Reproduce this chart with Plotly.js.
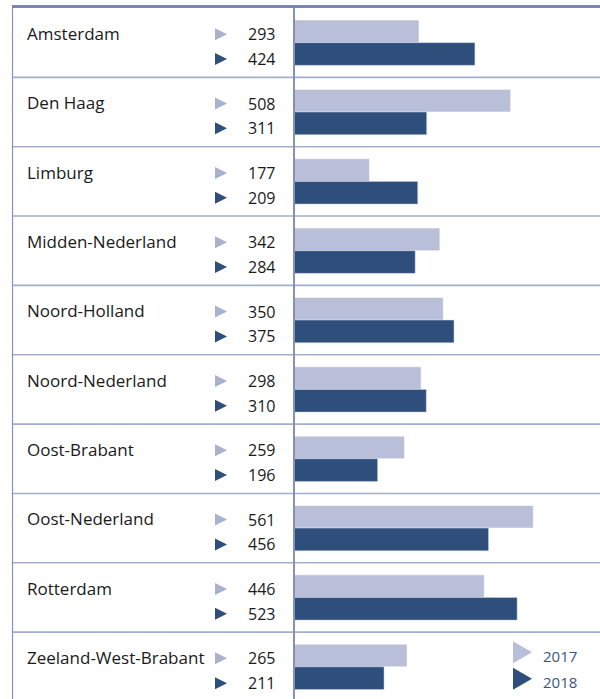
<!DOCTYPE html>
<html>
<head>
<meta charset="utf-8">
<script src="https://cdn.plot.ly/plotly-3.0.1.min.js"></script>
<style>
  html, body { margin: 0; padding: 0; background: #ffffff; }
  #chart { width: 600px; height: 699px; }
</style>
</head>
<body>
<div id="chart"></div>
<script>
// ---- data ----
const regions = ["Amsterdam", "Den Haag", "Limburg", "Midden-Nederland", "Noord-Holland",
                 "Noord-Nederland", "Oost-Brabant", "Oost-Nederland", "Rotterdam", "Zeeland-West-Brabant"];
// bar lengths as drawn in the picture
const values2017 = [293, 508, 177, 342, 350, 298, 259, 561, 446, 265];
const values2018 = [424, 311, 290, 284, 375, 310, 196, 456, 523, 211];
// numbers printed in the table (the picture prints 209 for Limburg 2018, bar is drawn at ~290)
const labels2017 = ["293", "508", "177", "342", "350", "298", "259", "561", "446", "265"];
const labels2018 = ["424", "311", "209", "284", "375", "310", "196", "456", "523", "211"];
const seriesNames = ["2017", "2018"];

// ---- styling ----
const LIGHT = "#b9bfd9";
const DARK = "#2e4e7c";
const LIGHT_TRI = "#a9b1d1";
const FONT = "Open Sans, Noto Sans, sans-serif";
const W = 600, H = 699;
const px = v => v / W;

const idx = regions.map((_, i) => i);

const traces = [
  {
    type: "bar", orientation: "h", name: seriesNames[0],
    y: idx, x: values2017,
    marker: { color: LIGHT, line: { color: "rgba(255,255,255,0.55)", width: 1 } },
    hoverinfo: "x", showlegend: false
  },
  {
    type: "bar", orientation: "h", name: seriesNames[1],
    y: idx, x: values2018,
    marker: { color: DARK, line: { color: "rgba(200,210,230,0.5)", width: 1 } },
    hoverinfo: "x", showlegend: false
  }
];

const annotations = [];
const shapes = [];

function tri(xc, yAnchor, yref, dy, color, w, h) {
  // right-pointing triangle in pixel units around an anchor; dy positive = up
  const hw = w / 2, hh = h / 2;
  shapes.push({
    type: "path", xref: "paper", yref: yref,
    xsizemode: "pixel", ysizemode: "pixel",
    xanchor: px(xc), yanchor: yAnchor,
    path: `M${-hw},${dy + hh} L${hw},${dy} L${-hw},${dy - hh} Z`,
    fillcolor: color, line: { width: 0 }, layer: "above"
  });
}

regions.forEach((name, i) => {
  annotations.push({
    xref: "paper", yref: "y", x: px(24.5), y: i, yshift: 9.3,
    xanchor: "left", yanchor: "middle", showarrow: false,
    text: name, font: { family: FONT, size: 17, color: "#1a1a1a" }
  });
  annotations.push({
    xref: "paper", yref: "y", x: px(276.5), y: i, yshift: 8.5,
    xanchor: "right", yanchor: "middle", showarrow: false,
    text: labels2017[i], font: { family: FONT, size: 16, color: "#1a1a1a" }
  });
  annotations.push({
    xref: "paper", yref: "y", x: px(276.5), y: i, yshift: -16.3,
    xanchor: "right", yanchor: "middle", showarrow: false,
    text: labels2018[i], font: { family: FONT, size: 16, color: "#1a1a1a" }
  });
  tri(221, i, "y", 8.5, LIGHT_TRI, 12, 12);
  tri(221, i, "y", -16.3, DARK, 12, 12);
  if (i < regions.length - 1) {
    shapes.push({
      type: "line", xref: "paper", yref: "y",
      x0: px(12), x1: 1, y0: i + 0.5, y1: i + 0.5,
      line: { color: "#a4afcc", width: 1.6 }, layer: "above"
    });
  }
});

// legend (bottom right)
const lastRow = regions.length - 1;
tri(522.5, lastRow, "y", 14.5, LIGHT, 19, 22);
tri(522.5, lastRow, "y", -11.8, DARK, 19, 22);
annotations.push({
  xref: "paper", yref: "y", x: px(540.5), y: lastRow, yshift: 10.8,
  xanchor: "left", yanchor: "middle", showarrow: false,
  text: seriesNames[0], font: { family: FONT, size: 15, color: "#3b5586" }
});
annotations.push({
  xref: "paper", yref: "y", x: px(540.5), y: lastRow, yshift: -15.5,
  xanchor: "left", yanchor: "middle", showarrow: false,
  text: seriesNames[1], font: { family: FONT, size: 15, color: "#3b5586" }
});

// frame lines
shapes.push({
  type: "line", xref: "paper", yref: "paper",
  x0: px(12.5), x1: px(12.5), y0: -0.01, y1: 1.0,
  line: { color: "#8493c2", width: 1.2 }, layer: "above"
});
shapes.push({
  type: "line", xref: "paper", yref: "paper",
  x0: px(294), x1: px(294), y0: -0.01, y1: 1.0,
  line: { color: "#8592b3", width: 2 }, layer: "above"
});
shapes.push({
  type: "line", xref: "paper", yref: "paper",
  x0: px(12), x1: 1, y0: 1 + 1.5 / 691, y1: 1 + 1.5 / 691,
  line: { color: "#7b87ad", width: 3 }, layer: "above"
});

const layout = {
  width: W, height: H,
  margin: { l: 0, r: 0, t: 8, b: 0, pad: 0 },
  paper_bgcolor: "#ffffff", plot_bgcolor: "#ffffff",
  barmode: "group", bargap: 0.347, bargroupgap: 0,
  showlegend: false,
  xaxis: {
    domain: [294 / W, 1], range: [0, 306 / 0.4266],
    showgrid: false, zeroline: false, showticklabels: false, ticks: "", fixedrange: true
  },
  yaxis: {
    range: [-0.5 + 691 / 69.35, -0.5],
    showgrid: false, zeroline: false, showticklabels: false, ticks: "", fixedrange: true
  },
  annotations: annotations,
  shapes: shapes,
  font: { family: FONT }
};

Plotly.newPlot("chart", traces, layout, { displayModeBar: false, staticPlot: true });
</script>
</body>
</html>
